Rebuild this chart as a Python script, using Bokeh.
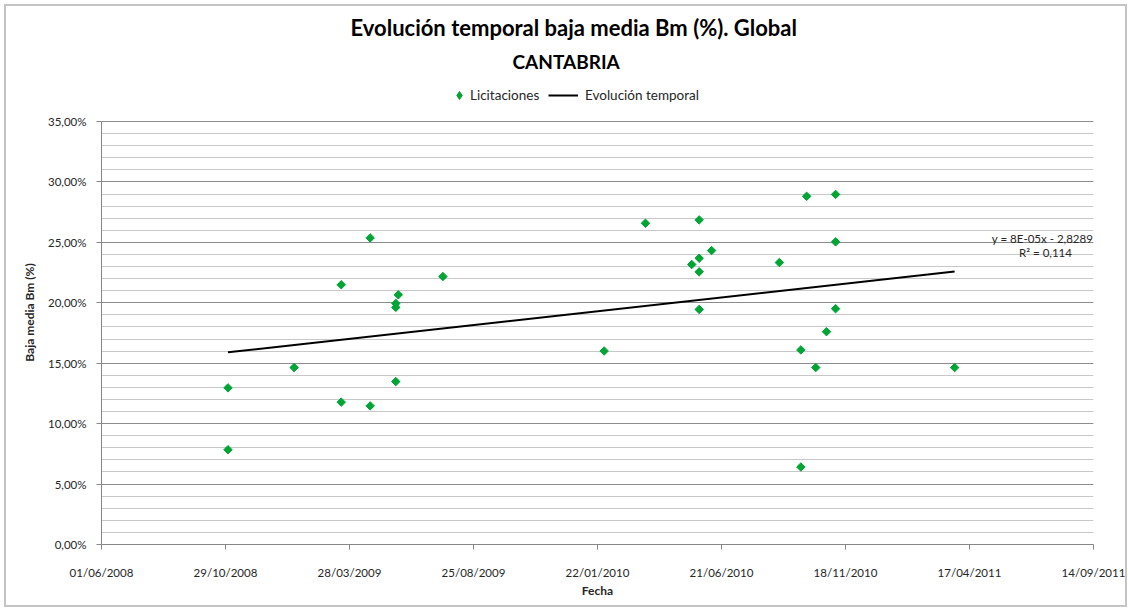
import numpy as np
import pandas as pd
from bokeh.plotting import figure
from bokeh.models import (Range1d, FixedTicker, DatetimeTickFormatter, Legend,
                          LegendItem, Label, Title, ColumnDataSource, InlineStyleSheet)
from bokeh.embed import file_html
from bokeh.resources import INLINE

# ---------------- data ----------------
title_line1 = "Evolución temporal baja media Bm (%). Global"
title_line2 = "CANTABRIA"
series_points = "Licitaciones"
series_trend = "Evolución temporal"
x_label = "Fecha"
y_label = "Baja media Bm (%)"
equation_text = "y = 8E-05x - 2,8289"
r2_text = "R² = 0,114"

fechas = [
    "2008-11-01", "2008-11-01", "2009-01-20", "2009-03-18", "2009-03-18",
    "2009-04-22", "2009-04-22", "2009-05-26", "2009-05-23", "2009-05-23",
    "2009-05-23", "2009-07-19", "2010-01-30", "2010-03-21", "2010-05-25",
    "2010-06-09", "2010-05-25", "2010-05-16", "2010-05-25", "2010-05-25",
    "2010-08-30", "2010-10-02", "2010-11-06", "2010-11-06", "2010-11-06",
    "2010-10-26", "2010-09-25", "2010-10-13", "2010-09-25", "2011-03-30",
]
bajas = [
    12.96, 7.84, 14.64, 21.49, 11.78,
    25.37, 11.47, 20.66, 19.95, 19.62,
    13.48, 22.17, 16.01, 26.58, 26.86,
    24.32, 23.69, 23.17, 22.56, 19.45,
    23.33, 28.81, 28.97, 25.04, 19.51,
    17.61, 16.10, 14.64, 6.41, 14.64,
]

x_tick_dates = ["2008-06-01", "2008-10-29", "2009-03-28", "2009-08-25", "2010-01-22",
                "2010-06-21", "2010-11-18", "2011-04-17", "2011-09-14"]
y_ticks = [0, 5, 10, 15, 20, 25, 30, 35]
y_tick_labels = ["0,00%", "5,00%", "10,00%", "15,00%", "20,00%", "25,00%", "30,00%", "35,00%"]
y_minor = list(range(0, 36))

# ---------------- derived ----------------
def to_ms(d):
    return pd.Timestamp(d).value / 1e6

fechas_dt = pd.to_datetime(fechas)
src = ColumnDataSource(dict(fecha=fechas_dt, baja=bajas))

days = np.array([(f - pd.Timestamp("1899-12-30")).days for f in fechas_dt], dtype=float)
slope, intercept = np.polyfit(days, np.array(bajas), 1)
d0, d1 = days.min(), days.max()
trend_src = ColumnDataSource(dict(x=[fechas_dt.min(), fechas_dt.max()],
                                  y=[slope * d0 + intercept, slope * d1 + intercept]))

FONT = "Lato"
TXT = "#262626"
GREEN = "#00a535"

# frame: x 101..1093, y 80..544 ; the 0..35 % axis occupies 121..544
FRAME_TOP = 80
y_top = y_ticks[-1] * (544 - FRAME_TOP) / (544 - 121)

p = figure(width=1128, height=612, x_axis_type="datetime", output_backend="svg",
           toolbar_location=None, title=None,
           x_range=Range1d(to_ms(x_tick_dates[0]), to_ms(x_tick_dates[-1])),
           y_range=Range1d(0, y_top),
           min_border_left=101, min_border_right=35, min_border_top=FRAME_TOP,
           min_border_bottom=68)
p.outline_line_color = None
p.stylesheets = [InlineStyleSheet(css=(
    ":host { position: relative; }"
    ":host::after { content: ''; position: absolute; left: 4px; top: 4px; right: 1px;"
    " bottom: 5px; border: 2px solid #c4c4c4; pointer-events: none; z-index: 100; }"))]

# grids
p.xgrid.visible = False
p.ygrid.ticker = FixedTicker(ticks=y_ticks, minor_ticks=y_minor)
p.ygrid.grid_line_color = "#8c8c8c"
p.ygrid.minor_grid_line_color = "#c8c8c8"

# axes
for ax in (p.xaxis[0], p.yaxis[0]):
    ax.axis_line_color = "#868686"
    ax.major_tick_line_color = "#868686"
    ax.major_tick_out = 5
    ax.major_tick_in = 0
    ax.minor_tick_line_color = None
    ax.major_label_text_font = FONT
    ax.major_label_text_font_size = "11.5px"
    ax.major_label_text_color = TXT
    ax.axis_label_text_font = FONT
    ax.axis_label_text_font_size = "12px"
    ax.axis_label_text_font_style = "bold"
    ax.axis_label_text_color = TXT

p.xaxis.ticker = FixedTicker(ticks=[to_ms(d) for d in x_tick_dates])
fmt = "%d/%m/%Y"
p.xaxis.formatter = DatetimeTickFormatter(microseconds=fmt, milliseconds=fmt, seconds=fmt,
                                          minsec=fmt, minutes=fmt, hourmin=fmt, hours=fmt,
                                          days=fmt, months=fmt, years=fmt)
p.xaxis.major_label_standoff = 16
p.xaxis.axis_label = x_label
p.xaxis.axis_label_standoff = 1

p.yaxis.ticker = FixedTicker(ticks=y_ticks)
p.yaxis.bounds = (y_ticks[0], y_ticks[-1])
p.yaxis.major_label_overrides = dict(zip(y_ticks, y_tick_labels))
p.yaxis.major_label_standoff = 10
p.yaxis.axis_label = y_label
p.yaxis.axis_label_standoff = 8

# glyphs
r_line = p.line(x="x", y="y", source=trend_src, line_color="black", line_width=2)
# small diamonds under the points: they give the legend its diamond swatch
r_swatch = p.scatter(x="fecha", y="baja", source=src, marker="diamond", size=4.5,
                     fill_color=GREEN, line_color=GREEN)
r_pts = p.scatter(x="fecha", y="baja", source=src, marker="square", angle=np.pi / 4,
                  size=6, fill_color=GREEN, line_color=GREEN)

# legends (inside the extended frame, above the 35 % line)
common = dict(orientation="horizontal", glyph_height=20, label_height=20, padding=0,
              margin=0, border_line_color=None, background_fill_alpha=0,
              label_text_font=FONT, label_text_font_size="13.5px", label_text_color=TXT)
leg1 = Legend(items=[LegendItem(label=series_points, renderers=[r_swatch])],
              location=(348, 439), glyph_width=20, label_standoff=1, **common)
leg2 = Legend(items=[LegendItem(label=series_trend, renderers=[r_line])],
              location=(447, 439), glyph_width=30, label_standoff=7, **common)
p.add_layout(leg1)
p.add_layout(leg2)

# titles
p.add_layout(Title(text=title_line2, align="left", offset=411, standoff=16,
                   text_font=FONT, text_font_size="19px", text_font_style="bold",
                   text_color="black"), "above")
p.add_layout(Title(text=title_line1, align="left", offset=249, standoff=-3,
                   text_font=FONT, text_font_size="22px", text_font_style="bold",
                   text_color="black"), "above")

# trend annotation
p.add_layout(Label(x=941, y=306, x_units="screen", y_units="screen", text=equation_text,
                   text_align="center", text_baseline="middle", text_font=FONT,
                   text_font_size="11.5px", text_color=TXT))
p.add_layout(Label(x=944, y=292, x_units="screen", y_units="screen", text=r2_text,
                   text_align="center", text_baseline="middle", text_font=FONT,
                   text_font_size="11.5px", text_color=TXT))

open("out.html", "w").write(file_html(p, INLINE))
